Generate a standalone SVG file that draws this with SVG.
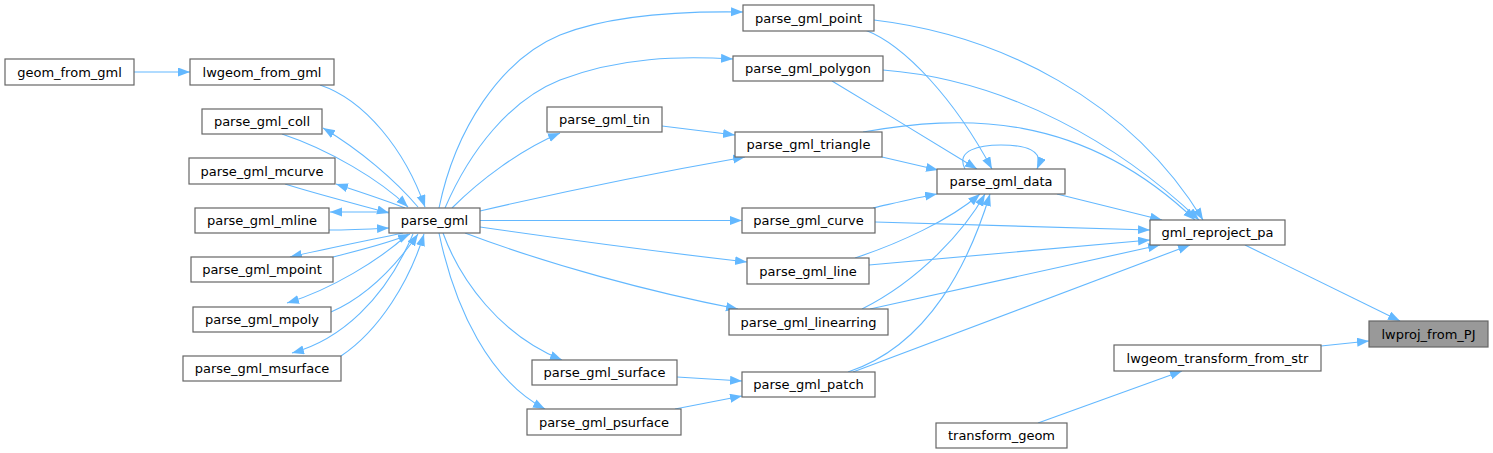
<svg xmlns="http://www.w3.org/2000/svg" width="1493" height="453" viewBox="0 0 1493 453">
<style>
.n rect{fill:#fff;stroke:#666;stroke-width:1.2}
.n text{font-family:"DejaVu Sans",sans-serif;font-size:13px;fill:#000;text-anchor:middle}
.hl rect{fill:#999}
.e path{fill:none;stroke:#63b8ff;stroke-width:1.1;marker-end:url(#a)}
</style>
<defs>
<marker id="a" markerUnits="userSpaceOnUse" markerWidth="13" markerHeight="10" refX="12" refY="4.5" orient="auto">
<path d="M0,0 L12,4.5 L0,9 z" fill="#63b8ff"/>
</marker>
</defs>
<rect width="1493" height="453" fill="#fff"/>
<g id="edges" class="e">
<path d="M134,72 L190,72"/>
<path d="M320,85 C365,100 405,150 425,207"/>
<path d="M282,134 C330,150 380,180 408,207"/>
<path d="M418,207 C395,180 360,150 323,128"/>
<path d="M285,184 C320,195 360,205 389,213"/>
<path d="M405,208 C385,200 360,192 336,184"/>
<path d="M389,212 L330,212"/>
<path d="M329,230 C350,230 370,229 389,228"/>
<path d="M403,233 C370,240 320,250 290,257"/>
<path d="M333,257 C360,250 390,243 410,234"/>
<path d="M408,234 C380,260 330,290 287,303"/>
<path d="M331,312 C370,295 400,260 418,234"/>
<path d="M413,234 C385,300 340,340 292,353"/>
<path d="M341,356 C380,330 410,280 424,234"/>
<path d="M439,208 C455,130 500,60 560,35 C610,15 680,11 743,12"/>
<path d="M445,208 C470,150 510,100 560,80 C620,57 680,56 733,59"/>
<path d="M452,208 C480,180 520,150 560,133"/>
<path d="M480,211 C570,190 660,172 745,157"/>
<path d="M480,220.5 L742,220.5"/>
<path d="M480,227 C570,240 660,252 747,262"/>
<path d="M465,233 C550,265 650,292 738,309"/>
<path d="M443,233 C460,280 500,335 562,360"/>
<path d="M439,233 C455,310 490,380 545,409"/>
<path d="M662,126 L735,135"/>
<path d="M677,377 L742,381"/>
<path d="M675,409 L742,396"/>
<path d="M865,30 C905,45 955,100 992,169"/>
<path d="M832,81 C880,110 930,140 977,169"/>
<path d="M882,157 C900,161 920,166 938,170"/>
<path d="M873,208 C895,203 915,198 937,194"/>
<path d="M855,258 C900,243 950,220 980,194"/>
<path d="M862,309 C920,280 965,230 985,194"/>
<path d="M848,372 C930,345 970,260 990,194"/>
<path d="M965,169 C955,150 980,145 1001,145 C1025,145 1045,150 1037,169"/>
<path d="M874,20 C1000,35 1130,100 1203,220"/>
<path d="M883,70 C1010,80 1120,145 1199,220"/>
<path d="M863,132 C960,115 1080,110 1195,220"/>
<path d="M1057,194 L1162,220"/>
<path d="M875,222 L1150,230"/>
<path d="M869,265 L1150,240"/>
<path d="M870,309 L1160,245"/>
<path d="M853,372 L1190,245"/>
<path d="M1245,245 L1400,321"/>
<path d="M1321,346 L1369,341"/>
<path d="M1038,423 L1182,371"/>
</g>
<g id="geom_from_gml" class="n"><rect x="5" y="59" width="129" height="26"/><text x="69.5" y="76.5">geom_from_gml</text></g>
<g id="lwgeom_from_gml" class="n"><rect x="190" y="59" width="144" height="26"/><text x="262" y="76.5">lwgeom_from_gml</text></g>
<g id="parse_gml_coll" class="n"><rect x="202" y="109" width="120" height="25"/><text x="262" y="126">parse_gml_coll</text></g>
<g id="parse_gml_mcurve" class="n"><rect x="189" y="158" width="146" height="26"/><text x="262" y="175.5">parse_gml_mcurve</text></g>
<g id="parse_gml_mline" class="n"><rect x="195" y="208" width="134" height="25"/><text x="262" y="225">parse_gml_mline</text></g>
<g id="parse_gml" class="n"><rect x="389" y="208" width="91" height="25"/><text x="434.5" y="225">parse_gml</text></g>
<g id="parse_gml_mpoint" class="n"><rect x="191" y="257" width="142" height="25"/><text x="262" y="274">parse_gml_mpoint</text></g>
<g id="parse_gml_mpoly" class="n"><rect x="193" y="307" width="138" height="25"/><text x="262" y="324">parse_gml_mpoly</text></g>
<g id="parse_gml_msurface" class="n"><rect x="183" y="356" width="158" height="25"/><text x="262" y="373">parse_gml_msurface</text></g>
<g id="parse_gml_point" class="n"><rect x="743" y="5" width="131" height="26"/><text x="808.5" y="22.5">parse_gml_point</text></g>
<g id="parse_gml_polygon" class="n"><rect x="733" y="56" width="150" height="25"/><text x="808" y="73">parse_gml_polygon</text></g>
<g id="parse_gml_tin" class="n"><rect x="547" y="107" width="115" height="25"/><text x="604.5" y="124">parse_gml_tin</text></g>
<g id="parse_gml_triangle" class="n"><rect x="735" y="132" width="147" height="25"/><text x="808.5" y="149">parse_gml_triangle</text></g>
<g id="parse_gml_data" class="n"><rect x="937" y="169" width="128" height="25"/><text x="1001" y="186">parse_gml_data</text></g>
<g id="parse_gml_curve" class="n"><rect x="742" y="208" width="133" height="25"/><text x="808.5" y="225">parse_gml_curve</text></g>
<g id="gml_reproject_pa" class="n"><rect x="1150" y="220" width="135" height="25"/><text x="1217.5" y="237">gml_reproject_pa</text></g>
<g id="parse_gml_line" class="n"><rect x="747" y="258" width="122" height="26"/><text x="808" y="275.5">parse_gml_line</text></g>
<g id="parse_gml_linearring" class="n"><rect x="729" y="309" width="159" height="26"/><text x="808.5" y="326.5">parse_gml_linearring</text></g>
<g id="lwproj_from_PJ" class="n hl"><rect x="1369" y="321" width="119" height="26"/><text x="1428.5" y="338.5">lwproj_from_PJ</text></g>
<g id="lwgeom_transform_from_str" class="n"><rect x="1114" y="345" width="207" height="26"/><text x="1217.5" y="362.5">lwgeom_transform_from_str</text></g>
<g id="parse_gml_surface" class="n"><rect x="532" y="360" width="145" height="25"/><text x="604.5" y="377">parse_gml_surface</text></g>
<g id="parse_gml_patch" class="n"><rect x="742" y="372" width="133" height="25"/><text x="808.5" y="389">parse_gml_patch</text></g>
<g id="parse_gml_psurface" class="n"><rect x="527" y="409" width="154" height="26"/><text x="604" y="426.5">parse_gml_psurface</text></g>
<g id="transform_geom" class="n"><rect x="936" y="423" width="131" height="25"/><text x="1001.5" y="440">transform_geom</text></g>
</svg>
